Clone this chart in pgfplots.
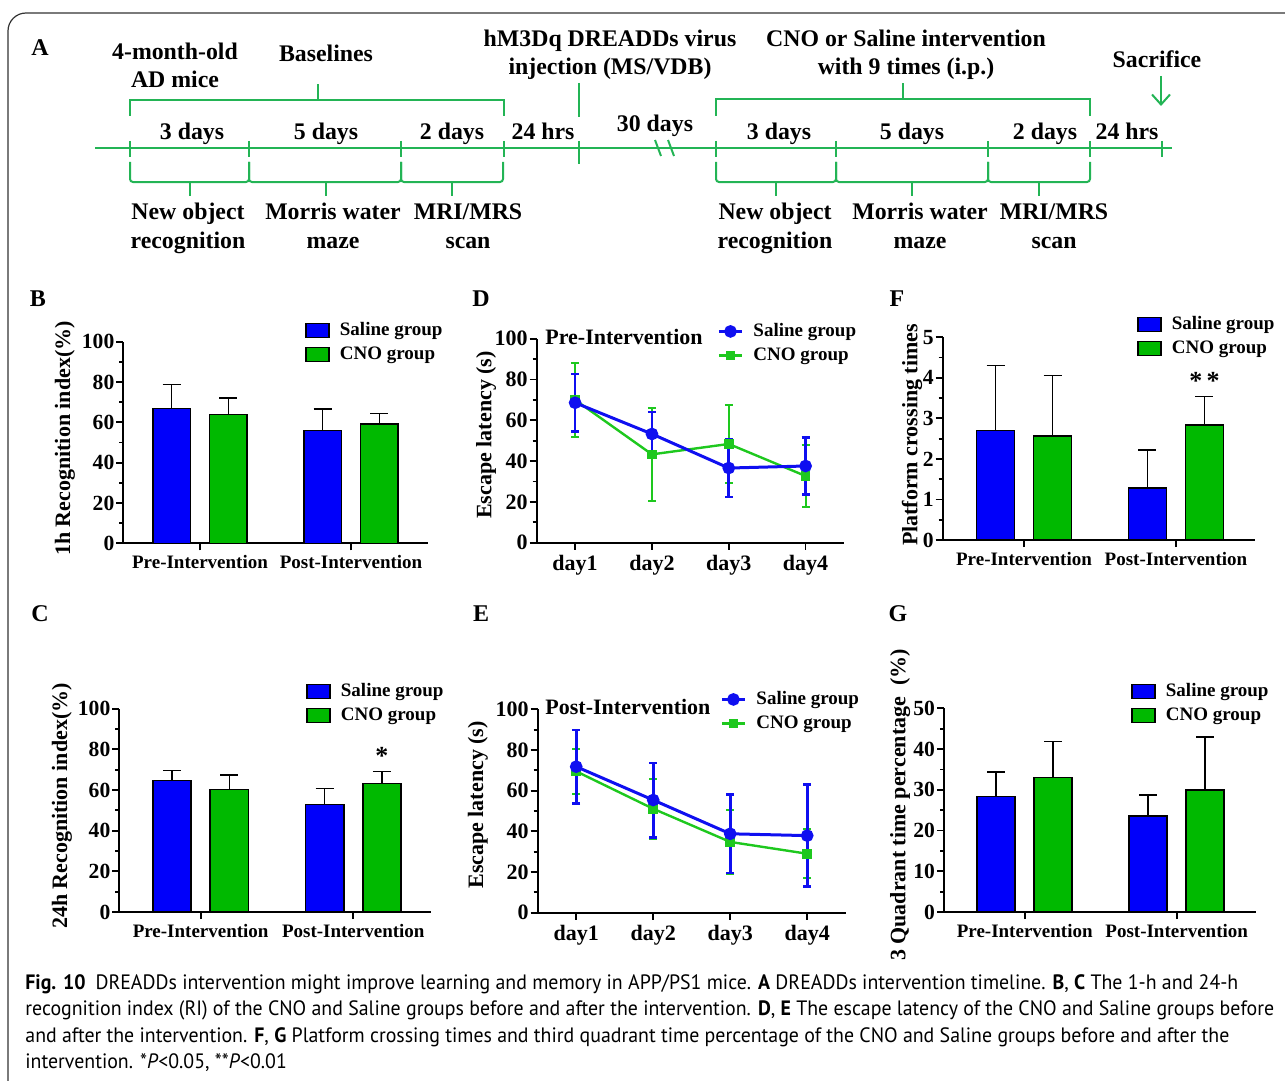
\documentclass[border=0pt]{standalone}
\usepackage{pgfplots}
\pgfplotsset{compat=1.18}
\usepackage{fontspec}
\usepackage{graphicx}
\usetikzlibrary{arrows.meta}
\setmainfont{Liberation Serif}
\newfontfamily\capfont{PT Sans}
\definecolor{barB}{RGB}{0,0,250}
\definecolor{barG}{RGB}{0,185,0}
\definecolor{lineB}{RGB}{15,15,240}
\definecolor{lineG}{RGB}{30,200,30}
\definecolor{tlG}{RGB}{35,180,85}
\newcommand{\tlf}{\fontsize{11.9}{13}\selectfont\bfseries}
\pgfplotsset{
  base/.style={
    scale only axis, anchor=south west, clip=false,
    axis x line*=bottom, axis y line*=left,
    axis line style={line width=1pt,black},
    tick style={line width=0.9pt,black},
    tick align=outside, major tick length=3.5pt, minor tick length=2pt,
    minor y tick num=1, ymin=0,
    /pgf/number format/assume math mode=true,
    ylabel style={font=\fontsize{11}{12}\selectfont\bfseries, anchor=center},
    legend cell align=left,
    legend style={draw=none, fill=none, anchor=north west, inner sep=0pt,
      font=\fontsize{9.5}{11}\selectfont\bfseries, row sep=1pt,
      nodes={inner sep=1.5pt}},
  },
  barpanel/.style={base,
    xtick={0,1}, xticklabels={Pre-Intervention,Post-Intervention},
    xticklabel style={font=\fontsize{9.5}{10}\selectfont\bfseries, inner sep=2.4pt},
    yticklabel style={font=\fontsize{10.8}{11}\selectfont\bfseries, inner sep=0.8pt},
  },
  linepanel/.style={base,
    xtick={1,2,3,4}, xticklabels={day1,day2,day3,day4},
    xmin=0.5, xmax=4.5, ymax=100, ytick={0,20,...,100},
    xticklabel style={font=\fontsize{11}{12}\selectfont\bfseries, inner sep=2.4pt},
    yticklabel style={font=\fontsize{11}{12}\selectfont\bfseries, inner sep=0.8pt},
    reverse legend,
  },
  mybar/.style={ybar, bar width=0.25, bar shift=0pt, draw=black, line width=0.75pt,
    legend image code/.code={\draw[##1,/tikz/.cd,line width=0.75pt] (0pt,-3.5pt) rectangle (11.5pt,3.5pt); \path (15pt,0pt);},
    error bars/y dir=plus, error bars/y explicit,
    error bars/error bar style={line width=0.75pt,black},
    error bars/error mark options={rotate=90,black,line width=0.75pt,mark size=4.5pt}},
  salL/.style={color=lineB, line width=1.5pt, mark=*, mark size=2.4pt,
    mark options={solid,fill=lineB},
    legend image code/.code={\draw[mark repeat=2,mark phase=2,##1] plot coordinates {(0pt,0pt) (5.75pt,0pt) (11.5pt,0pt)}; \path (15pt,0pt);},
    error bars/y dir=both, error bars/y explicit,
    error bars/error bar style={line width=1.3pt,lineB},
    error bars/error mark options={rotate=90,lineB,line width=1.3pt,mark size=2pt}},
  cnoL/.style={color=lineG, line width=1.2pt, mark=square*, mark size=1.8pt,
    mark options={solid,fill=lineG},
    legend image code/.code={\draw[mark repeat=2,mark phase=2,##1] plot coordinates {(0pt,0pt) (5.75pt,0pt) (11.5pt,0pt)}; \path (15pt,0pt);},
    error bars/y dir=both, error bars/y explicit,
    error bars/error bar style={line width=1pt,lineG},
    error bars/error mark options={rotate=90,lineG,line width=1pt,mark size=2pt}},
}
\begin{document}
\begin{tikzpicture}[x=0.5pt,y=-0.5pt]
\useasboundingbox (0,0) rectangle (1285,1081);
\clip (0,0) rectangle (1285,1081);
\draw[line width=0.6pt, black!80, rounded corners=9pt] (8,13) rectangle (1320,1120);
% ---------------- Panel A: timeline ----------------
\node[anchor=base, font=\fontsize{12}{13}\selectfont\bfseries] at (40,56) {A};
\begin{scope}[tlG, line width=1pt]
\draw (95,148) -- (1172,148);
\foreach \x in {130,249,401,504,716,836,988,1090,1162} \draw (\x,141) -- (\x,157);
\draw (579,141) -- (579,164);
\draw (579,83) -- (579,117);
\draw (655,140) -- (661,156); \draw (668,140) -- (674,156);
% top brackets
\draw (130,116) -- (130,100) -- (504,100) -- (504,116); \draw (318,100) -- (318,84);
\draw (716,116) -- (716,99) -- (1090,99) -- (1090,116); \draw (903,99) -- (903,83);
\draw[-{Straight Barb[length=5pt,width=9pt]}] (1161,76) -- (1161,106);
% bottom brackets
\foreach \a/\b/\c in {130/249/190, 249/401/326, 401/503/452, 716/836/776, 836/988/912, 988/1090/1039}{
  \draw[rounded corners=1.5pt] (\a,162) -- (\a,182) -- (\b,182) -- (\b,162);
  \draw (\c,182) -- (\c,196);
}
\end{scope}
\begin{scope}[every node/.style={anchor=base, font=\tlf, inner sep=0pt}]
\node at (175,60) {4-month-old}; \node at (175,88) {AD mice};
\node at (326,62) {Baselines};
\node at (610,47) {hM3Dq DREADDs virus}; \node at (610,75) {injection (MS/VDB)};
\node at (906,47) {CNO or Saline intervention}; \node at (906,75) {with 9 times (i.p.)};
\node at (1157,68) {Sacrifice};
\node at (192,140) {3 days}; \node at (326,140) {5 days}; \node at (452,140) {2 days}; \node at (543,140) {24 hrs};
\node at (655,132) {30 days};
\node at (779,140) {3 days}; \node at (912,140) {5 days}; \node at (1045,140) {2 days}; \node at (1127,140) {24 hrs};
\node at (188,220) {New object}; \node at (188,248) {recognition};
\node at (333,220) {Morris water}; \node at (333,248) {maze};
\node at (468,220) {MRI/MRS}; \node at (468,248) {scan};
\node at (775,220) {New object}; \node at (775,248) {recognition};
\node at (920,220) {Morris water}; \node at (920,248) {maze};
\node at (1054,220) {MRI/MRS}; \node at (1054,248) {scan};
\end{scope}
% panel letters
\begin{scope}[every node/.style={anchor=base, font=\fontsize{12}{13}\selectfont\bfseries, inner sep=0pt}]
\node at (38,306) {B}; \node at (481,306) {D}; \node at (897,306) {F};
\node at (40,621) {C}; \node at (481,621) {E}; \node at (898,621) {G};
\end{scope}
\coordinate (pB) at (123.3,543.3);
\coordinate (pC) at (119.3,912);
\coordinate (pD) at (536.7,542.7);
\coordinate (pE) at (537.7,912.7);
\coordinate (pF) at (942.7,540);
\coordinate (pG) at (944,912);
% ---------------- Panel B ----------------
\begin{axis}[barpanel, at={(pB)}, width=152.2pt, height=100.8pt,
  xmin=-0.508, xmax=1.508, ymax=100, ytick={0,20,...,100},
  ylabel={1h Recognition index(\%)},
  ylabel style={at={(axis description cs:-0.1915,0.52)}},
  legend style={at={(axis description cs:0.597,1.113)}}]
\addplot[fill=barB, mybar] coordinates {(-0.1875,66.8) +- (0,11.9) (0.8125,56.0) +- (0,10.6)};
\addplot[fill=barG, mybar] coordinates {(0.1875,64.0) +- (0,8.1) (1.1875,59.2) +- (0,5.1)};
\legend{Saline group, CNO group}
\end{axis}
% ---------------- Panel C ----------------
\begin{axis}[barpanel, at={(pC)}, width=155.85pt, height=101.65pt,
  xmin=-0.533, xmax=1.509, ymax=100, ytick={0,20,...,100},
  ylabel={24h Recognition index(\%)},
  ylabel style={at={(axis description cs:-0.184,0.521)}},
  legend style={at={(axis description cs:0.599,1.141)}}]
\addplot[fill=barB, mybar] coordinates {(-0.1875,64.8) +- (0,4.9) (0.8125,52.8) +- (0,8.0)};
\addplot[fill=barG, mybar] coordinates {(0.1875,60.3) +- (0,7.1) (1.1875,63.3) +- (0,5.7)};
\legend{Saline group, CNO group}
\node[font=\fontsize{13}{14}\selectfont\bfseries] at (axis cs:1.1875,77) {*};
\end{axis}
% ---------------- Panel D ----------------
\begin{axis}[linepanel, at={(pD)}, width=153.65pt, height=102pt,
  ylabel={Escape latency (s)},
  ylabel style={at={(axis description cs:-0.165,0.528)}},
  legend style={at={(axis description cs:0.587,1.092)}}]
\addplot[cnoL] coordinates {(1,70.0) +- (0,18.2) (2,43.3) +- (0,22.8) (3,48.4) +- (0,19.0) (4,32.7) +- (0,15.2)};
\addlegendentry{CNO group}
\addplot[salL] coordinates {(1,68.6) +- (0,14.1) (2,53.3) +- (0,10.7) (3,36.6) +- (0,14.1) (4,37.6) +- (0,14.0)};
\addlegendentry{Saline group}
\node[anchor=west, inner sep=0pt, font=\fontsize{11}{12}\selectfont\bfseries] at (axis description cs:0.027,1.008) {Pre-Intervention};
\end{axis}
% ---------------- Panel E ----------------
\begin{axis}[linepanel, at={(pE)}, width=154pt, height=101.7pt,
  ylabel={Escape latency (s)},
  ylabel style={at={(axis description cs:-0.194,0.53)}},
  legend style={at={(axis description cs:0.592,1.105)}}]
\addplot[cnoL] coordinates {(1,69.5) +- (0,10.9) (2,51.1) +- (0,14.8) (3,34.8) +- (0,15.8) (4,29.0) +- (0,12.0)};
\addlegendentry{CNO group}
\addplot[salL] coordinates {(1,71.8) +- (0,18.0) (2,55.4) +- (0,18.3) (3,38.8) +- (0,19.2) (4,37.9) +- (0,25.0)};
\addlegendentry{Saline group}
\node[anchor=west, inner sep=0pt, font=\fontsize{11}{12}\selectfont\bfseries] at (axis description cs:0.024,1.01) {Post-Intervention};
\end{axis}
% ---------------- Panel F ----------------
\begin{axis}[barpanel, at={(pF)}, width=156.15pt, height=101.35pt,
  xmin=-0.535, xmax=1.52, ymax=5, ytick={0,1,...,5},
  ylabel={Platform crossing times},
  ylabel style={at={(axis description cs:-0.098,0.518)}},
  legend style={at={(axis description cs:0.622,1.12)}}]
\addplot[fill=barB, mybar] coordinates {(-0.1875,2.70) +- (0,1.61) (0.8125,1.28) +- (0,0.94)};
\addplot[fill=barG, mybar] coordinates {(0.1875,2.56) +- (0,1.50) (1.1875,2.84) +- (0,0.70)};
\legend{Saline group, CNO group}
\node[font=\fontsize{13}{14}\selectfont\bfseries] at (axis cs:1.1875,3.92) {*\,*};
\end{axis}
% ---------------- Panel G ----------------
\begin{axis}[barpanel, at={(pG)}, width=155.85pt, height=101.85pt,
  xmin=-0.531, xmax=1.52, ymax=50, ytick={0,10,...,50},
  ylabel={3 Quadrant time percentage\ \ (\%)},
  ylabel style={at={(axis description cs:-0.141,0.525)}},
  legend style={at={(axis description cs:0.6,1.139)}}]
\addplot[fill=barB, mybar] coordinates {(-0.1875,28.4) +- (0,6.0) (0.8125,23.6) +- (0,5.1)};
\addplot[fill=barG, mybar] coordinates {(0.1875,33.0) +- (0,8.9) (1.1875,29.9) +- (0,13.1)};
\legend{Saline group, CNO group}
\end{axis}
% ---------------- Caption ----------------
\begin{scope}[every node/.style={anchor=base west, inner sep=0pt, font=\capfont\fontsize{10.4}{12}\selectfont}]
\node at (25,989) {\scalebox{0.955}[1]{\textbf{Fig. 10}\enspace DREADDs intervention might improve learning and memory in APP/PS1 mice. \textbf{A} DREADDs intervention timeline. \textbf{B}, \textbf{C} The 1-h and 24-h}};
\node at (25,1015.5) {\scalebox{0.955}[1]{recognition index (RI) of the CNO and Saline groups before and after the intervention. \textbf{D}, \textbf{E} The escape latency of the CNO and Saline groups before}};
\node at (25,1042) {\scalebox{0.955}[1]{and after the intervention. \textbf{F}, \textbf{G} Platform crossing times and third quadrant time percentage of the CNO and Saline groups before and after the}};
\node at (25,1068.5) {\scalebox{0.955}[1]{intervention. *\textit{P}<0.05, **\textit{P}<0.01}};
\end{scope}
\end{tikzpicture}
\end{document}
